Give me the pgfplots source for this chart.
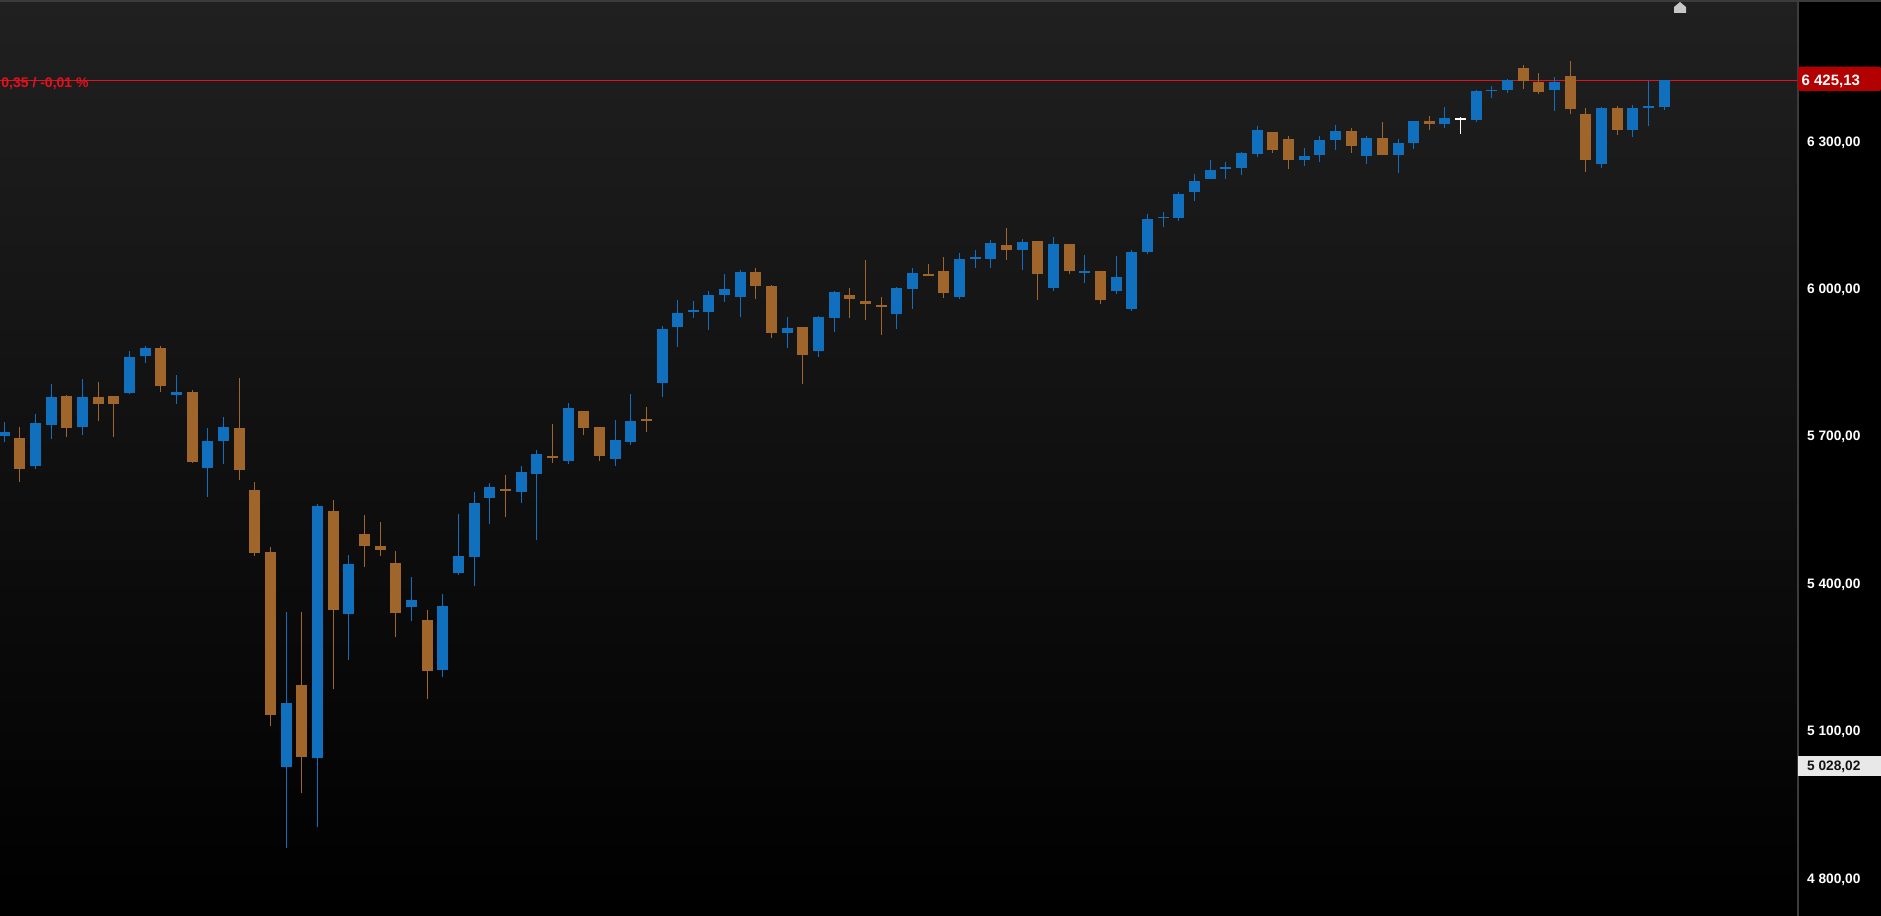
\documentclass[border=0pt]{standalone}
\usepackage{fontspec}
\setmainfont{Liberation Sans}
\usepackage{pgfplots}
\usepackage{pgfplotstable}
\pgfplotsset{compat=1.18}

\definecolor{cup}{HTML}{1170BE}
\definecolor{cdown}{HTML}{A0652A}
\definecolor{bgtop}{RGB}{32,32,32}
\definecolor{frame}{RGB}{60,60,60}
\definecolor{lastred}{HTML}{E3101E}
\definecolor{boxred}{HTML}{B30000}

% daily candles: index, open, high, low, close
\pgfplotstableread{
i O H L C
1 5701 5729 5688 5710
3 5639 5745 5633 5727
4 5723 5806 5694 5780
6 5719 5816 5702 5780
9 5788 5873 5786 5861
10 5863 5885 5849 5881
12 5784 5826 5765 5790
14 5635 5717 5576 5690
15 5690 5739 5643 5719
19 5027 5342 4862 5157
21 5045 5562 4905 5558
23 5338 5458 5245 5440
27 5352 5413 5324 5367
29 5224 5379 5210 5354
30 5422 5542 5418 5456
31 5454 5586 5395 5564
32 5574 5605 5521 5597
34 5586 5639 5564 5627
35 5623 5672 5489 5664
37 5651 5769 5643 5757
40 5653 5733 5639 5692
41 5688 5786 5682 5731
43 5808 5924 5780 5918
44 5922 5977 5883 5952
45 5954 5975 5940 5956
46 5954 5995 5916 5987
47 5988 6030 5973 6001
48 5983 6038 5942 6034
51 5910 5944 5879 5920
53 5873 5946 5861 5944
54 5940 5995 5912 5993
58 5950 6005 5918 6001
59 6001 6042 5959 6032
62 5983 6074 5979 6062
63 6063 6079 6042 6065
64 6062 6099 6042 6093
66 6079 6101 6038 6095
68 6001 6105 5997 6091
70 6033 6070 6013 6036
72 5995 6068 5989 6024
73 5960 6079 5956 6076
74 6076 6152 6072 6142
75 6144 6156 6127 6147
76 6144 6197 6138 6194
77 6197 6235 6180 6219
78 6223 6262 6223 6243
79 6245 6258 6223 6248
80 6247 6278 6233 6276
81 6274 6331 6268 6323
84 6262 6286 6251 6270
85 6272 6312 6258 6304
86 6304 6333 6284 6321
88 6270 6312 6255 6308
90 6272 6306 6237 6298
91 6298 6343 6286 6341
93 6335 6371 6327 6347
95 6345 6406 6339 6404
96 6402 6414 6388 6406
97 6406 6428 6398 6426
100 6404 6432 6363 6422
103 6255 6371 6247 6369
105 6323 6375 6310 6369
106 6370 6424 6331 6372
107 6371 6426 6365 6425.13
}\upbars

\pgfplotstableread{
i O H L C
2 5696 5719 5607 5634
5 5782 5784 5698 5717
7 5780 5810 5731 5765
8 5782 5783 5698 5765
11 5881 5883 5790 5802
13 5790 5794 5646 5647
16 5717 5818 5611 5631
17 5590 5607 5456 5463
18 5464 5474 5110 5133
20 5194 5342 4974 5047
22 5548 5570 5186 5346
24 5501 5540 5434 5477
25 5477 5525 5456 5468
26 5442 5466 5291 5340
28 5326 5346 5165 5222
33 5591 5621 5536 5589
36 5660 5725 5645 5657
38 5751 5752 5702 5717
39 5719 5720 5649 5660
42 5734 5759 5708 5731
49 6034 6042 5979 6007
50 6007 6009 5900 5910
52 5922 5923 5806 5865
55 5987 6003 5942 5979
56 5975 6060 5936 5969
57 5967 5983 5906 5964
60 6030 6050 6026 6027
61 6036 6066 5981 5991
65 6089 6125 6058 6080
67 6097 6098 5977 6030
69 6091 6092 6030 6036
71 6036 6037 5969 5977
82 6319 6320 6276 6282
83 6306 6312 6245 6262
87 6321 6327 6276 6292
89 6308 6339 6272 6272
92 6341 6353 6323 6335
98 6449 6455 6408 6424
99 6422 6439 6396 6402
101 6434 6465 6357 6367
102 6357 6369 6239 6262
104 6369 6373 6314 6323
}\downbars

\pgfplotstableread{
i O H L C
94 6346 6351 6316 6346
}\flatbars

% #1 colour, #2 table, #3 smallest half body height
\newcommand{\candles}[3]{%
  \addplot[draw=none, no markers, error bars/.cd, y dir=both, y explicit,
    error mark=none, error bar style={draw=#1, line width=0.5pt}]
    table[x=i, y expr={(\thisrow{H}+\thisrow{L})/2},
      y error expr={(\thisrow{H}-\thisrow{L})/2}] {#2};
  \addplot[draw=none, no markers, error bars/.cd, y dir=both, y explicit,
    error mark=none, error bar style={draw=#1, line width=5.5pt}]
    table[x=i, y expr={(\thisrow{O}+\thisrow{C})/2},
      y error expr={max(abs(\thisrow{O}-\thisrow{C})/2,#3)}] {#2};
}

\begin{document}
\begin{tikzpicture}
\useasboundingbox (0,0) rectangle (940.5pt,458pt);
\fill[black] (0,0) rectangle (940.5pt,458pt);
\begin{axis}[
  at={(0,0)}, anchor=south west,
  scale only axis, width=898.5pt, height=458pt,
  xmin=0.7254, xmax=115.48,
  ymin=4723.8, ymax=6588.2,
  axis line style={draw=none},
  axis background/.style={shade, top color=bgtop, bottom color=black},
  xtick=\empty,
  ytick={4800,5100,5400,5700,6000,6300},
  yticklabels={{4 800,00},{5 100,00},{5 400,00},{5 700,00},{6 000,00},{6 300,00}},
  yticklabel pos=right,
  major tick length=0pt,
  yticklabel style={anchor=west, inner sep=0pt, xshift=4.85pt, yshift=-0.4pt,
    text=white, font=\fontsize{6.85pt}{8pt}\selectfont\bfseries},
]
  \addplot[lastred, line width=0.5pt] coordinates {(0.7254,6425.13) (115.48,6425.13)};
  \candles{cup}{\upbars}{2.0}
  \candles{cdown}{\downbars}{2.0}
  \candles{white}{\flatbars}{1.2}
\end{axis}
% frame of the chart window
\fill[frame] (898.5pt,0) rectangle (899.5pt,458pt);
\fill[frame] (0,457pt) rectangle (940.5pt,458pt);
\fill[black!0!white!78!black] (837pt,451.5pt) -- (843pt,451.5pt) -- (843pt,454.5pt)
  -- (840pt,457pt) -- (837pt,454.5pt) -- cycle;
% price marks
\node[anchor=west, inner sep=0pt, text=lastred,
  font=\fontsize{7pt}{8pt}\selectfont\bfseries] at (0.5pt,416.2pt) {0,35 / -0,01 \%};
\fill[boxred, rounded corners=1pt] (899pt,412.5pt) rectangle (940.5pt,424.65pt);
\node[anchor=west, inner sep=0pt, text=white,
  font=\fontsize{7.5pt}{8pt}\selectfont\bfseries] at (900.6pt,417.5pt) {6 425,13};
\fill[black!9] (899pt,70pt) rectangle (940.5pt,80pt);
\node[anchor=west, inner sep=0pt, text=black!93,
  font=\fontsize{6.85pt}{8pt}\selectfont\bfseries] at (903.35pt,74.8pt) {5 028,02};
\end{tikzpicture}
\end{document}
